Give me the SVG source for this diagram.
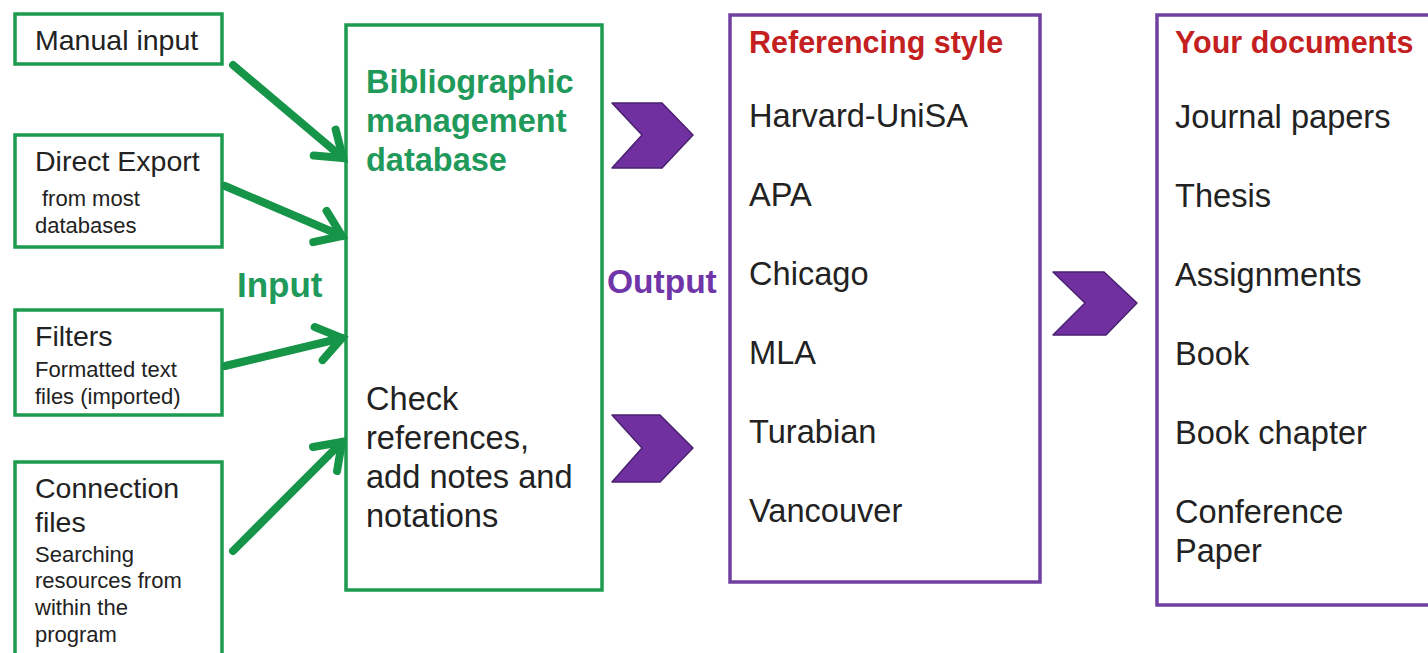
<svg xmlns="http://www.w3.org/2000/svg" width="1428" height="653" viewBox="0 0 1428 653">
<defs>
<style>
.gbox{fill:none;stroke:#1c9a50;stroke-width:3.5}
.pbox{fill:none;stroke:#7040a0;stroke-width:3.5}
.t{font-family:"Liberation Sans",Arial,sans-serif;fill:#222}
.big{font-size:28.5px}
.small{font-size:22px}
.item{font-size:32.6px}
.gb{font-family:"Liberation Sans",Arial,sans-serif;font-weight:bold;fill:#1f9a5a}
.pb{font-family:"Liberation Sans",Arial,sans-serif;font-weight:bold;fill:#7035a8}
.rb{font-family:"Liberation Sans",Arial,sans-serif;font-weight:bold;fill:#c3201f;font-size:30.5px}
.arrow{stroke:#169447;stroke-width:8;fill:none;stroke-linecap:round}
.chev{fill:#7030a0;stroke:#4a2070;stroke-width:1.5;stroke-linejoin:round}
</style>
<marker id="ah" markerUnits="userSpaceOnUse" markerWidth="60" markerHeight="60" viewBox="-40 -30 60 60" refX="0" refY="0" orient="auto">
<path d="M -24 -17 L 0 0 L -24 17" fill="none" stroke="#169447" stroke-width="8" stroke-linecap="round" stroke-linejoin="miter"/>
</marker>
</defs>
<rect width="1428" height="653" fill="#ffffff"/>

<g id="manual-input">
<rect class="gbox" x="15" y="14" width="207" height="50"/>
<text class="t big" x="35" y="50">Manual input</text>
</g>
<g id="direct-export">
<rect class="gbox" x="15" y="135" width="207" height="112"/>
<text class="t big" x="35" y="171">Direct Export</text>
<text class="t small" x="42" y="206">from most</text>
<text class="t small" x="35" y="233">databases</text>
</g>
<g id="filters">
<rect class="gbox" x="15" y="310" width="207" height="105"/>
<text class="t big" x="35" y="346">Filters</text>
<text class="t small" x="35" y="377">Formatted text</text>
<text class="t small" x="35" y="404">files (imported)</text>
</g>
<g id="connection-files">
<rect class="gbox" x="15" y="462" width="207" height="220"/>
<text class="t big" x="35" y="498">Connection</text>
<text class="t big" x="35" y="532">files</text>
<text class="t small" x="35" y="562">Searching</text>
<text class="t small" x="35" y="588">resources from</text>
<text class="t small" x="35" y="615">within the</text>
<text class="t small" x="35" y="642">program</text>
</g>

<g id="input-label">
<text class="gb" x="237" y="297" font-size="35">Input</text>
</g>

<g id="database">
<rect class="gbox" x="346" y="25" width="256" height="565"/>
<text class="gb" font-size="32.5"><tspan x="366" y="93">Bibliographic</tspan><tspan x="366" y="132">management</tspan><tspan x="366" y="171">database</tspan></text>
<text class="t item"><tspan x="366" y="410">Check</tspan><tspan x="366" y="449">references,</tspan><tspan x="366" y="488">add notes and</tspan><tspan x="366" y="527">notations</tspan></text>
</g>

<g id="output-label">
<text class="pb" x="607" y="293" font-size="33.5">Output</text>
</g>

<g id="referencing-style">
<rect class="pbox" x="730" y="15" width="310" height="567"/>
<text class="rb" x="749" y="53">Referencing style</text>
<text class="t item" x="749" y="127">Harvard-UniSA</text>
<text class="t item" x="749" y="206">APA</text>
<text class="t item" x="749" y="285">Chicago</text>
<text class="t item" x="749" y="364">MLA</text>
<text class="t item" x="749" y="443">Turabian</text>
<text class="t item" x="749" y="522">Vancouver</text>
</g>

<g id="your-documents">
<rect class="pbox" x="1157" y="15" width="290" height="590"/>
<text class="rb" x="1175" y="53">Your documents</text>
<text class="t item" x="1175" y="128">Journal papers</text>
<text class="t item" x="1175" y="207">Thesis</text>
<text class="t item" x="1175" y="286">Assignments</text>
<text class="t item" x="1175" y="365">Book</text>
<text class="t item" x="1175" y="444">Book chapter</text>
<text class="t item" x="1175" y="523">Conference</text>
<text class="t item" x="1175" y="562">Paper</text>
</g>

<g id="connectors">
<line class="arrow" x1="233" y1="65" x2="343" y2="158" marker-end="url(#ah)"/>
<line class="arrow" x1="225" y1="186" x2="342" y2="236" marker-end="url(#ah)"/>
<line class="arrow" x1="225" y1="366" x2="342" y2="338" marker-end="url(#ah)"/>
<line class="arrow" x1="233" y1="551" x2="342" y2="442" marker-end="url(#ah)"/>
<polygon class="chev" points="612,103 662,103 693,135 662,168 612,168 642,135"/>
<polygon class="chev" points="612,415 660,415 693,448 660,482 612,482 642,448"/>
<polygon class="chev" points="1053,272 1104,272 1137,303 1106,335 1053,335 1085,303"/>
</g>
</svg>
